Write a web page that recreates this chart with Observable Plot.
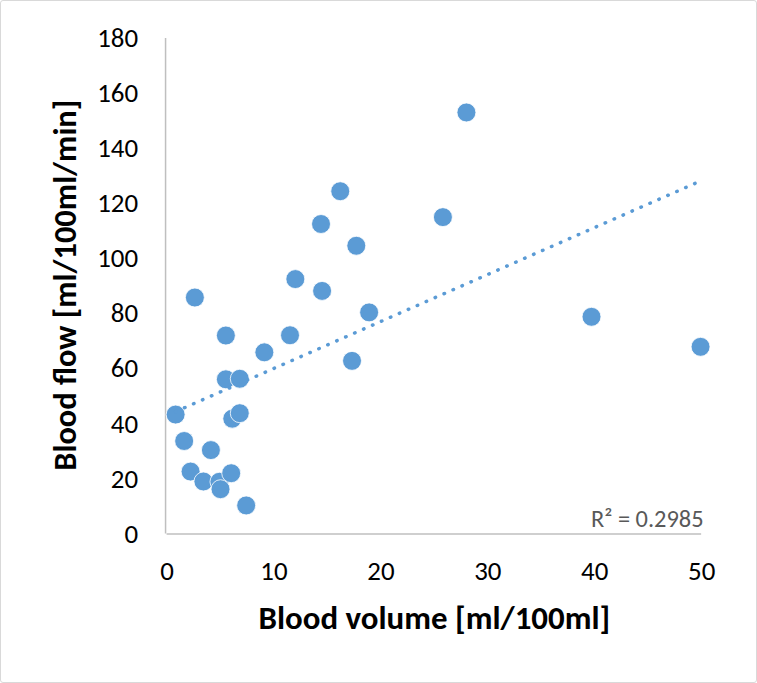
<!DOCTYPE html>
<html>
<head>
<meta charset="utf-8">
<script src="https://cdn.jsdelivr.net/npm/d3@7"></script>
<script src="https://cdn.jsdelivr.net/npm/@observablehq/plot@0.6"></script>
<style>
  html, body { margin: 0; padding: 0; background: #fff; }
  #chart { width: 755px; height: 681px; border: 1px solid #d9d9d9; border-radius: 3px; overflow: hidden; position: relative; }
  #chart svg { position: absolute; left: -1px; top: -1px; }
</style>
</head>
<body>
<div id="chart"></div>
<script>
const bloodVolume = [0.8, 1.6, 2.6, 2.2, 3.4, 4.1, 4.9, 5.0, 5.5, 5.5, 6.0, 6.1, 6.8, 6.8, 7.4, 9.1, 11.5, 12.0, 14.4, 14.5, 16.2, 17.3, 17.7, 18.9, 25.8, 28.0, 39.7, 49.9];
const bloodFlow   = [43.4, 33.8, 85.9, 22.7, 19.1, 30.5, 19.0, 16.3, 72.1, 56.2, 22.1, 41.9, 56.4, 43.9, 10.4, 66.0, 72.2, 92.6, 112.6, 88.3, 124.5, 62.9, 104.7, 80.5, 115.1, 153.1, 78.9, 68.0];
const xTicks = [0, 10, 20, 30, 40, 50];
const yTicks = [0, 20, 40, 60, 80, 100, 120, 140, 160, 180];
const xTitle = "Blood volume [ml/100ml]";
const yTitle = "Blood flow [ml/100ml/min]";
const r2Label = "R² = 0.2985";

const data = bloodVolume.map((v, i) => ({x: v, y: bloodFlow[i]}));
const font = "Carlito, Calibri, Lato, 'Open Sans', sans-serif";

const chart = Plot.plot({
  width: 757,
  height: 683,
  marginLeft: 167,
  marginRight: 54,
  marginTop: 38,
  marginBottom: 148,
  style: {fontFamily: font, fontSize: "27px", color: "#000", background: "transparent"},
  x: {domain: [0, 50], ticks: xTicks, label: null},
  y: {domain: [0, 180], ticks: yTicks, label: null},
  marks: [
    Plot.axisX({ticks: xTicks, tickSize: 0, tickPadding: 27, label: null, fontSize: 27}),
    Plot.axisY({ticks: yTicks, tickSize: 0, tickPadding: 29, label: null, fontSize: 27}),
    Plot.ruleY([0], {stroke: "#bfbfbf", strokeWidth: 1.5}),
    Plot.ruleX([0], {stroke: "#bfbfbf", strokeWidth: 1.5, dx: -1.5}),
    Plot.dot(data, {x: "x", y: "y", r: 9.5, fill: "#5b9bd5", stroke: "#ffffff", strokeWidth: 0.8}),
    Plot.linearRegressionY(data, {x: "x", y: "y", ci: 0, stroke: "#5b9bd5", strokeWidth: 3.5, strokeLinecap: "round", strokeDasharray: "0.5 9.3"}),
    Plot.text([r2Label], {frameAnchor: "bottom-right", textAnchor: "end", lineAnchor: "bottom", dx: 2, dy: -7, fontSize: 24.5, fill: "#595959"}),
    Plot.text([xTitle], {frameAnchor: "bottom", textAnchor: "middle", lineAnchor: "middle", dy: 85, fontSize: 33, fontWeight: "bold", fill: "#000"}),
    Plot.text([yTitle], {frameAnchor: "left", textAnchor: "middle", lineAnchor: "middle", rotate: -90, dx: -102, dy: -1, fontSize: 32.5, fontWeight: "bold", fill: "#000"})
  ]
});
d3.select(chart).selectAll('g[aria-label$="tick label"]').attr("font-size", 27).style("font-size", "27px");
document.getElementById("chart").appendChild(chart);
</script>
</body>
</html>
